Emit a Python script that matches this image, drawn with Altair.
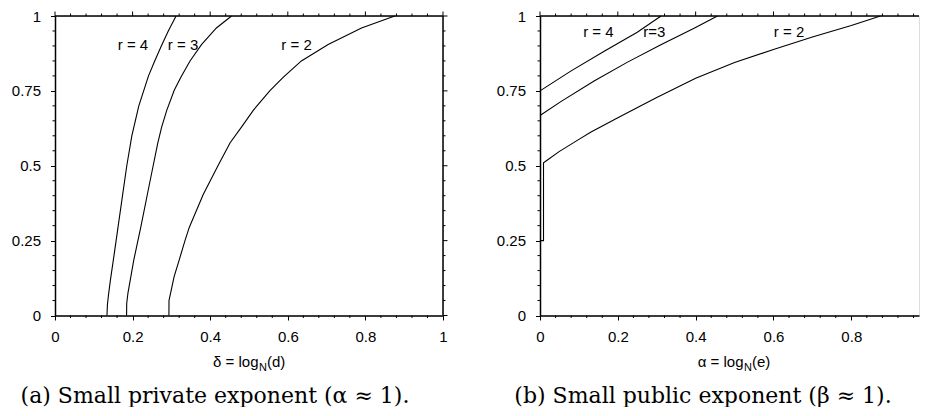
import altair as alt
import pandas as pd

# ---------------- values ----------------
# Panel (a): x = delta = log_N(d)
A_R4_X = [0.134, 0.135, 0.138, 0.143, 0.152, 0.163, 0.174, 0.185, 0.198, 0.216, 0.241, 0.257, 0.274, 0.292, 0.312]
A_R4_Y = [0.0, 0.035, 0.07, 0.12, 0.2, 0.3, 0.4, 0.5, 0.6, 0.7, 0.8, 0.85, 0.9, 0.95, 1.0]
A_R3_X = [0.1845, 0.1848, 0.188, 0.203, 0.221, 0.238, 0.253, 0.265, 0.275, 0.288, 0.307, 0.324, 0.348, 0.378, 0.416, 0.455]
A_R3_Y = [0.0, 0.04, 0.075, 0.185, 0.294, 0.404, 0.5, 0.576, 0.63, 0.685, 0.751, 0.795, 0.85, 0.905, 0.96, 1.0]
A_R2_X = [0.2936, 0.2938, 0.307, 0.320, 0.335, 0.346, 0.382, 0.42, 0.451, 0.481, 0.511, 0.554, 0.588, 0.635, 0.704, 0.790, 0.8756]
A_R2_Y = [0.0, 0.05, 0.13, 0.185, 0.25, 0.294, 0.404, 0.5, 0.576, 0.63, 0.685, 0.751, 0.795, 0.85, 0.905, 0.96, 1.0]

# Panel (b): x = alpha = log_N(e)
B_R4_X = [0.0, 0.079, 0.165, 0.25, 0.311]
B_R4_Y = [0.75, 0.816, 0.882, 0.946, 1.0]
B_R3_X = [0.0, 0.0535, 0.139, 0.225, 0.3106, 0.396, 0.456]
B_R3_Y = [0.668, 0.714, 0.783, 0.846, 0.904, 0.959, 1.0]
B_R2_X = [0.0, 0.009, 0.009, 0.02, 0.05, 0.1, 0.13, 0.2, 0.3, 0.4, 0.5, 0.6, 0.7, 0.8, 0.875]
B_R2_Y = [0.25, 0.25, 0.51, 0.52, 0.548, 0.588, 0.612, 0.66, 0.728, 0.792, 0.845, 0.888, 0.93, 0.968, 1.0]

# curve labels
A_LABELS = ["r = 4", "r = 3", "r = 2"]
A_LABEL_X = [0.201, 0.330, 0.6225]
A_LABEL_Y = [0.902, 0.902, 0.902]
B_LABELS = ["r = 4", "r=3", "r = 2"]
B_LABEL_X = [0.150, 0.294, 0.640]
B_LABEL_Y = [0.946, 0.946, 0.946]

# ticks
X_MAJOR = [0, 0.2, 0.4, 0.6, 0.8, 1]
X_MINOR = [round(i * 0.04, 2) for i in range(26) if i % 5 != 0]
Y_MAJOR = [0, 0.25, 0.5, 0.75, 1]
Y_MINOR = [round(i * 0.05, 2) for i in range(21) if i % 5 != 0]

CAPTION_A = "(a) Small private exponent (α ≈ 1)."
CAPTION_B = "(b) Small public exponent (β ≈ 1)."

SANS = "Liberation Sans"
SERIF = "DejaVu Serif"
H = 299.5
MAJ = 4.5
MIN = 2.5


def curves_df(xs_list, ys_list, names):
    rows = []
    for xs, ys, n in zip(xs_list, ys_list, names):
        for i, (a, b) in enumerate(zip(xs, ys)):
            rows.append({"x": a, "y": b, "r": n, "i": i})
    return pd.DataFrame(rows)


def panel(df, lab_txt, lab_x, lab_y, xdom, W, title_main, title_tail, caption, cap_x, right_frame):
    xs = alt.Scale(domain=xdom, nice=False, zero=False)
    ys = alt.Scale(domain=[0, 1], nice=False, zero=False)
    xmaj_in = [v for v in X_MAJOR if v <= xdom[1] + 1e-9]
    xmin_in = [v for v in X_MINOR if v <= xdom[1] + 1e-9]

    xa = alt.Axis(values=xmaj_in, labelExpr="datum.value + ''", title=None,
                  grid=False, domainColor="black", domainWidth=1.5,
                  tickColor="black", tickSize=MAJ, tickWidth=1,
                  labelFont=SANS, labelFontSize=15, labelColor="black",
                  labelPadding=9, labelFlush=False)
    ya = alt.Axis(values=Y_MAJOR, labelExpr="datum.value + ''", title=None,
                  grid=False, domainColor="black", domainWidth=1.5,
                  tickColor="black", tickSize=MAJ, tickWidth=1,
                  labelFont=SANS, labelFontSize=15, labelColor="black",
                  labelPadding=10)

    lines = alt.Chart(df).mark_line(color="black", strokeWidth=1.1).encode(
        x=alt.X("x:Q", scale=xs, axis=xa),
        y=alt.Y("y:Q", scale=ys, axis=ya),
        detail="r:N",
        order="i:Q",
    )

    xminor = pd.DataFrame({"x": xmin_in})
    xmajor = pd.DataFrame({"x": xmaj_in})
    yminor = pd.DataFrame({"y": Y_MINOR})
    ymajor = pd.DataFrame({"y": Y_MAJOR})

    def xrule(d, y0, y1):
        return alt.Chart(d).mark_rule(color="black", strokeWidth=1).encode(
            x=alt.X("x:Q", scale=xs, axis=xa), y=alt.value(y0), y2=alt.value(y1))

    def yrule(d, x0, x1):
        return alt.Chart(d).mark_rule(color="black", strokeWidth=1).encode(
            y=alt.Y("y:Q", scale=ys, axis=ya), x=alt.value(x0), x2=alt.value(x1))

    layers = [
        lines,
        xrule(xminor, H, H + MIN),
        xrule(xminor, 0, -MIN),
        xrule(xmajor, 0, -MAJ),
        yrule(yminor, 0, -MIN),
    ]
    one = pd.DataFrame({"k": [0]})
    top = alt.Chart(one).mark_rule(color="black", strokeWidth=1.5).encode(
        x=alt.value(0), x2=alt.value(W), y=alt.value(0))
    layers.append(top)
    if right_frame:
        layers += [
            yrule(yminor, W, W + MIN),
            yrule(ymajor, W, W + MAJ),
            alt.Chart(one).mark_rule(color="black", strokeWidth=1.5).encode(
                x=alt.value(W), y=alt.value(0), y2=alt.value(H)),
        ]

    labdf = pd.DataFrame({"t": lab_txt, "x": lab_x, "y": lab_y})
    labels = alt.Chart(labdf).mark_text(font=SANS, fontSize=15, color="black", align="center",
                                        baseline="middle").encode(
        x=alt.X("x:Q", scale=xs, axis=xa), y=alt.Y("y:Q", scale=ys, axis=ya), text="t:N")
    layers.append(labels)

    # axis title with subscript N
    cx = 194.0
    start = cx - 36
    tmain = alt.Chart(pd.DataFrame({"t": [title_main]})).mark_text(
        font=SANS, fontSize=15, color="black", align="right", baseline="alphabetic").encode(
        x=alt.value(start + 45.5), y=alt.value(H + 51), text="t:N")
    tsub = alt.Chart(pd.DataFrame({"t": ["N"]})).mark_text(
        font=SANS, fontSize=11, color="black", align="left", baseline="alphabetic").encode(
        x=alt.value(start + 46), y=alt.value(H + 55), text="t:N")
    ttail = alt.Chart(pd.DataFrame({"t": [title_tail]})).mark_text(
        font=SANS, fontSize=15, color="black", align="left", baseline="alphabetic").encode(
        x=alt.value(start + 54), y=alt.value(H + 51), text="t:N")
    cap = alt.Chart(pd.DataFrame({"t": [caption]})).mark_text(
        font=SERIF, fontSize=22, color="black", align="center", baseline="alphabetic").encode(
        x=alt.value(cap_x), y=alt.value(H + 87), text="t:N")
    layers += [tmain, tsub, ttail, cap]

    return alt.layer(*layers).properties(width=W, height=H)


dfa = curves_df([A_R4_X, A_R3_X, A_R2_X], [A_R4_Y, A_R3_Y, A_R2_Y], ["4", "3", "2"])
dfb = curves_df([B_R4_X, B_R3_X, B_R2_X], [B_R4_Y, B_R3_Y, B_R2_Y], ["4", "3", "2"])

left = panel(dfa, A_LABELS, A_LABEL_X, A_LABEL_Y, [0, 1], 388,
             "δ = log", "(d)", CAPTION_A, 160, True)
right = panel(dfb, B_LABELS, B_LABEL_X, B_LABEL_Y, [0, 0.974], 379,
              "α = log", "(e)", CAPTION_B, 163, False)

chart = alt.hconcat(left, right, spacing=46).properties(
    padding={"left": 2, "top": 0, "right": 0, "bottom": -1}
).configure_view(stroke="transparent").configure(background="white")

chart.save("out.html", embed_options={"renderer": "svg", "actions": False})
